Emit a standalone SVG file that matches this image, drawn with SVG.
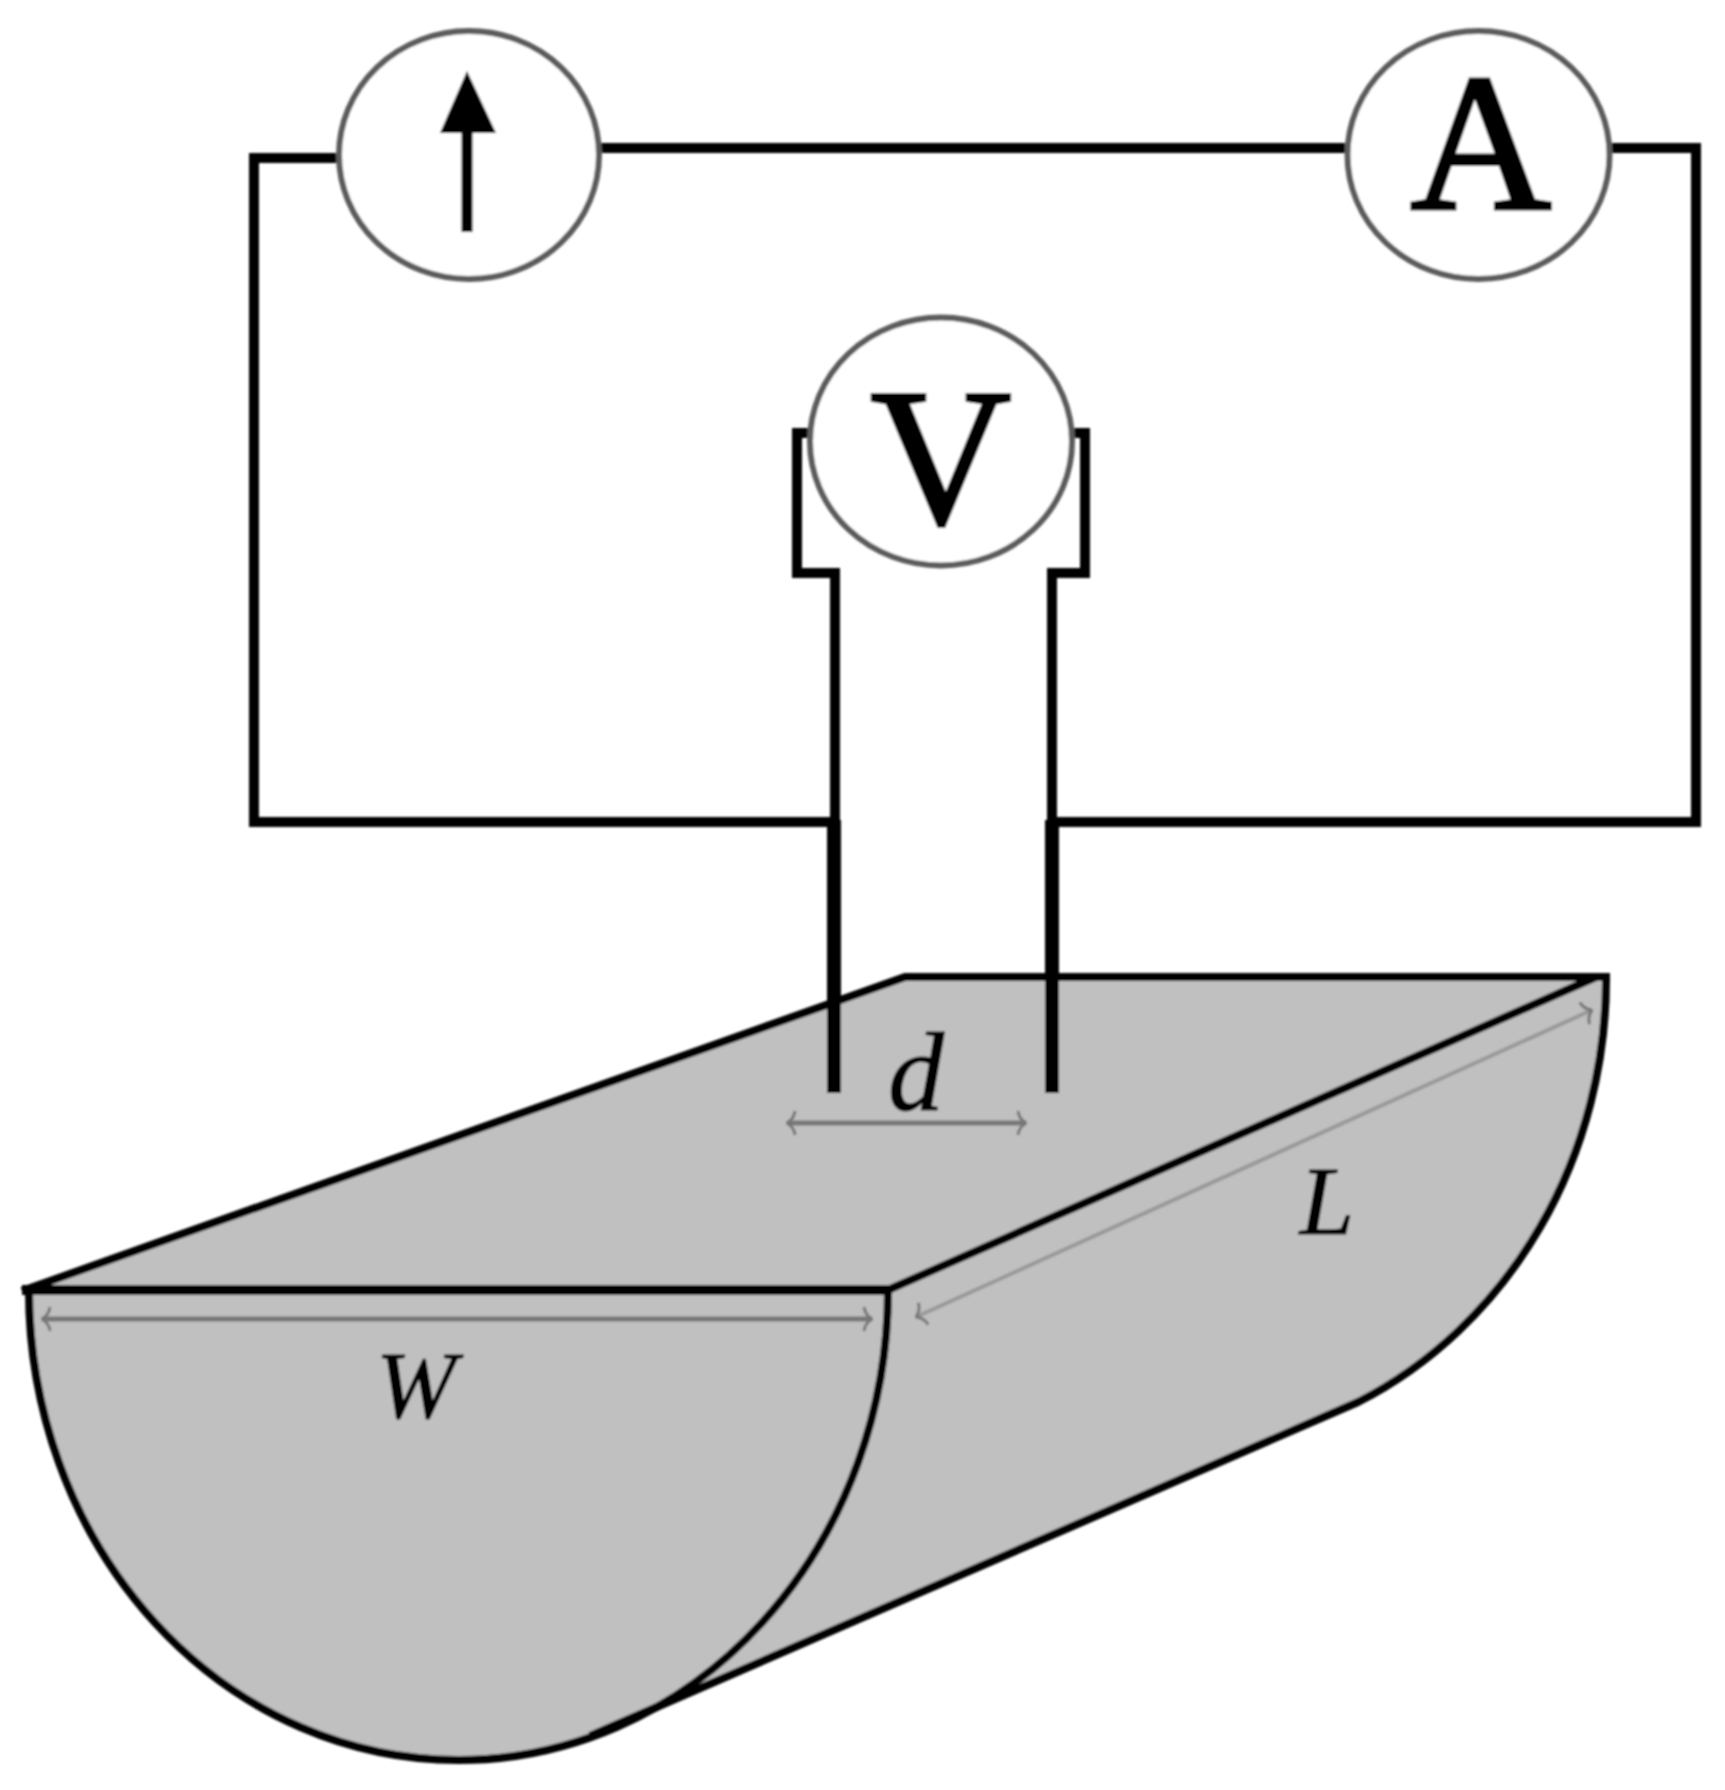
<svg xmlns="http://www.w3.org/2000/svg" width="1725" height="1790" viewBox="0 0 1725 1790">
  <style>
    .wire { fill: none; stroke: #000; stroke-width: 10; stroke-linejoin: miter; }
    .probe { fill: none; stroke: #000; stroke-width: 14; }
    .edge { fill: none; stroke: #000; stroke-width: 8; stroke-linejoin: bevel; }
    .meter { fill: #fff; stroke: #5c5c5c; stroke-width: 6; }
    .dim { fill: none; stroke: #777; stroke-width: 5; marker-start: url(#dimHead); marker-end: url(#dimHead); }
    .dimLight { stroke: #999; stroke-width: 4; }
    .big { font-family: "Liberation Serif", "Times New Roman", serif; font-size: 195px; text-anchor: middle; fill: #000; stroke: #000; stroke-width: 4; }
    .var { font-family: "Liberation Serif", "Times New Roman", serif; font-style: italic; text-anchor: middle; fill: #000; stroke: #000; stroke-width: 1.2; }
  </style>
  <defs>
    <filter id="soft" x="-2%" y="-2%" width="104%" height="104%"><feGaussianBlur stdDeviation="1.1"/></filter>
    <marker id="dimHead" viewBox="0 0 14 26" refX="13" refY="13" markerWidth="14" markerHeight="26" markerUnits="userSpaceOnUse" orient="auto-start-reverse">
      <path d="M5 1 Q6 9 13 13 Q6 17 5 25" fill="none" stroke="#777" stroke-width="3"/>
    </marker>
  </defs>
  <rect width="1725" height="1790" fill="#fff"/>
  <g filter="url(#soft)">
    <g id="tray">
      <path d="M905 977 L1606 977 A432 468 0 0 1 1358 1402 L590 1736 A429.5 470 0 0 1 458.5 1760 A429.5 470 0 0 1 29 1290 Z" fill="#c0c0c0"/>
      <path class="edge" d="M22 1291 L905 977 L1610 977"/>
      <path class="edge" d="M1606 975 A432 468 0 0 1 1358 1402 L590 1736"/>
      <path class="edge" d="M888 1290 L1596 977"/>
      <path class="edge" d="M22 1290 L891 1290" style="stroke-width:10"/>
      <path class="edge" d="M29 1290 A429.5 470 0 0 0 458.5 1760 A429.5 470 0 0 0 888 1290"/>
    </g>
    <g id="connectors">
      <path class="wire" d="M338 158 L254 158 L254 822 L835 822"/>
      <path class="wire" d="M600 148 L1347 148"/>
      <path class="wire" d="M1610 148 L1696 148 L1696 822 L1052 822"/>
      <path class="wire" d="M812 433 L797 433 L797 573 L835 573 L835 822"/>
      <path class="wire" d="M1070 433 L1085 433 L1085 573 L1052 573 L1052 822"/>
      <path class="probe" d="M834 820 L834 1093"/>
      <path class="probe" d="M1052 820 L1052 1093"/>
    </g>
    <g id="source">
      <ellipse class="meter" cx="469" cy="155" rx="130" ry="124"/>
      <path d="M467 232 L467 125" fill="none" stroke="#000" stroke-width="11"/>
      <path d="M467 71 L496 133 L440 133 Z" fill="#000"/>
    </g>
    <g id="ammeter">
      <ellipse class="meter" cx="1478.5" cy="155" rx="131" ry="124"/>
      <text class="big" x="1481" y="209">A</text>
    </g>
    <g id="voltmeter">
      <ellipse class="meter" cx="941" cy="441.5" rx="131" ry="124"/>
      <text class="big" x="941" y="523">V</text>
    </g>
    <g id="dim-d">
      <path class="dim" d="M787 1123 L1026 1123"/>
      <text class="var" x="916" y="1110" font-size="112">d</text>
    </g>
    <g id="dim-w">
      <path class="dim" d="M42 1319 L872 1319"/>
      <text class="var" x="416" y="1418" font-size="96">W</text>
    </g>
    <g id="dim-l">
      <path class="dim dimLight" d="M916 1317 L1592 1010"/>
      <text class="var" x="1327" y="1234" font-size="98">L</text>
    </g>
  </g>
</svg>
